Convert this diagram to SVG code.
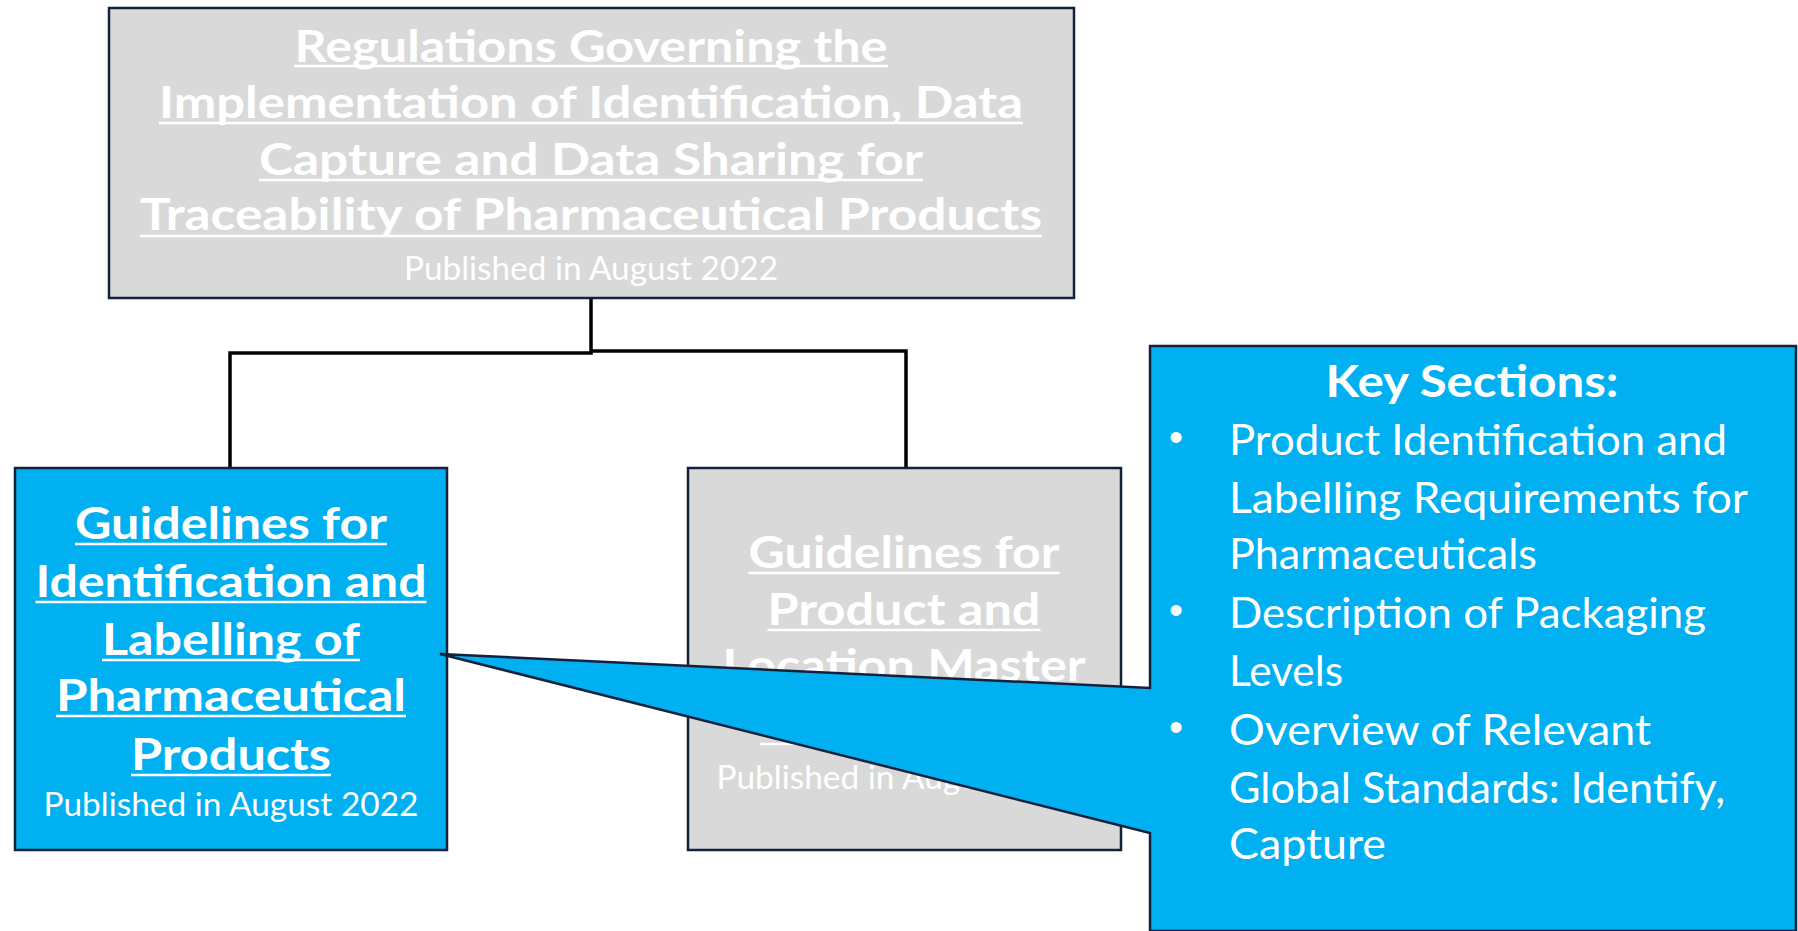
<svg xmlns="http://www.w3.org/2000/svg" width="1798" height="931" viewBox="0 0 1798 931">
<style>
.box{stroke:#14213d;stroke-width:2.5}
.gray{fill:#d9d9d9}
.blue{fill:#00b0f0}
.t{font-family:Lato,"Liberation Sans",sans-serif;fill:#ffffff;text-anchor:middle}
.b{font-weight:bold;font-size:43px}
.p{font-size:32px}
.ul{stroke:#ffffff;stroke-width:2.5}
.c{font-family:Lato,"Liberation Sans",sans-serif;fill:#ffffff;font-size:43px}
.bul{font-family:"Liberation Sans",sans-serif;fill:#ffffff;font-size:40px;text-anchor:middle}
.conn{fill:none;stroke:#000000;stroke-width:3.5}
</style>
<g id="connectors">
<path class="conn" d="M230 468 V353 H591 V298 M591 351 H906 V468"/>
</g>
<g id="node-regulations">
<rect class="box gray" x="109" y="8" width="965" height="290"/>
<text class="t b" x="591" y="62" textLength="593" lengthAdjust="spacingAndGlyphs">Regulations Governing the</text>
<text class="t b" x="591" y="118" textLength="864" lengthAdjust="spacingAndGlyphs">Implementation of Identification, Data</text>
<text class="t b" x="591" y="175" textLength="664" lengthAdjust="spacingAndGlyphs">Capture and Data Sharing for</text>
<text class="t b" x="591" y="230" textLength="902" lengthAdjust="spacingAndGlyphs">Traceability of Pharmaceutical Products</text>
<line class="ul" x1="294" y1="66" x2="888" y2="66"/>
<line class="ul" x1="159" y1="123" x2="1023" y2="123"/>
<line class="ul" x1="259" y1="180" x2="923" y2="180"/>
<line class="ul" x1="140" y1="236" x2="1042" y2="236"/>
<text class="t p" x="591" y="280" textLength="374" lengthAdjust="spacingAndGlyphs">Published in August 2022</text>
</g>
<g id="node-identification">
<rect class="box blue" x="15" y="468" width="432" height="382"/>
<text class="t b" x="231" y="539" textLength="312" lengthAdjust="spacingAndGlyphs">Guidelines for</text>
<text class="t b" x="231" y="597" textLength="391" lengthAdjust="spacingAndGlyphs">Identification and</text>
<text class="t b" x="231" y="655" textLength="258" lengthAdjust="spacingAndGlyphs">Labelling of</text>
<text class="t b" x="231" y="711" textLength="350" lengthAdjust="spacingAndGlyphs">Pharmaceutical</text>
<text class="t b" x="231" y="770" textLength="200" lengthAdjust="spacingAndGlyphs">Products</text>
<line class="ul" x1="75" y1="544" x2="387" y2="544"/>
<line class="ul" x1="35.5" y1="602" x2="426.5" y2="602"/>
<line class="ul" x1="102" y1="660" x2="360" y2="660"/>
<line class="ul" x1="56" y1="716" x2="406" y2="716"/>
<line class="ul" x1="131" y1="775" x2="331" y2="775"/>
<text class="t p" x="231" y="816" textLength="375" lengthAdjust="spacingAndGlyphs">Published in August 2022</text>
</g>
<g id="node-master-data">
<rect class="box gray" x="688" y="468" width="433" height="382"/>
<text class="t b" x="904" y="568" textLength="311" lengthAdjust="spacingAndGlyphs">Guidelines for</text>
<text class="t b" x="904" y="625" textLength="273" lengthAdjust="spacingAndGlyphs">Product and</text>
<text class="t b" x="904" y="681" textLength="363" lengthAdjust="spacingAndGlyphs">Location Master</text>
<line class="ul" x1="748.5" y1="573" x2="1059.5" y2="573"/>
<line class="ul" x1="767.5" y1="630" x2="1040.5" y2="630"/>
<line class="ul" x1="760" y1="744" x2="1048" y2="744"/>
<text class="t p" x="904" y="789" textLength="375" lengthAdjust="spacingAndGlyphs">Published in August 2022</text>
</g>
<g id="node-key-sections">
<path class="box blue" d="M1150 346 H1796 V931 H1150 V833 L440 654 L1150 688 Z"/>
<text class="t b" x="1472" y="397" textLength="293" lengthAdjust="spacingAndGlyphs">Key Sections:</text>
<text class="bul" x="1176" y="451">•</text>
<text class="bul" x="1176" y="624">•</text>
<text class="bul" x="1176" y="741">•</text>
<text class="c" x="1229" y="455" textLength="498" lengthAdjust="spacingAndGlyphs">Product Identification and</text>
<text class="c" x="1229" y="513" textLength="519" lengthAdjust="spacingAndGlyphs">Labelling Requirements for</text>
<text class="c" x="1229" y="569" textLength="308" lengthAdjust="spacingAndGlyphs">Pharmaceuticals</text>
<text class="c" x="1229" y="628" textLength="477" lengthAdjust="spacingAndGlyphs">Description of Packaging</text>
<text class="c" x="1229" y="686" textLength="114" lengthAdjust="spacingAndGlyphs">Levels</text>
<text class="c" x="1229" y="745" textLength="422" lengthAdjust="spacingAndGlyphs">Overview of Relevant</text>
<text class="c" x="1229" y="803" textLength="496" lengthAdjust="spacingAndGlyphs">Global Standards: Identify,</text>
<text class="c" x="1229" y="859" textLength="157" lengthAdjust="spacingAndGlyphs">Capture</text>
</g>
</svg>
